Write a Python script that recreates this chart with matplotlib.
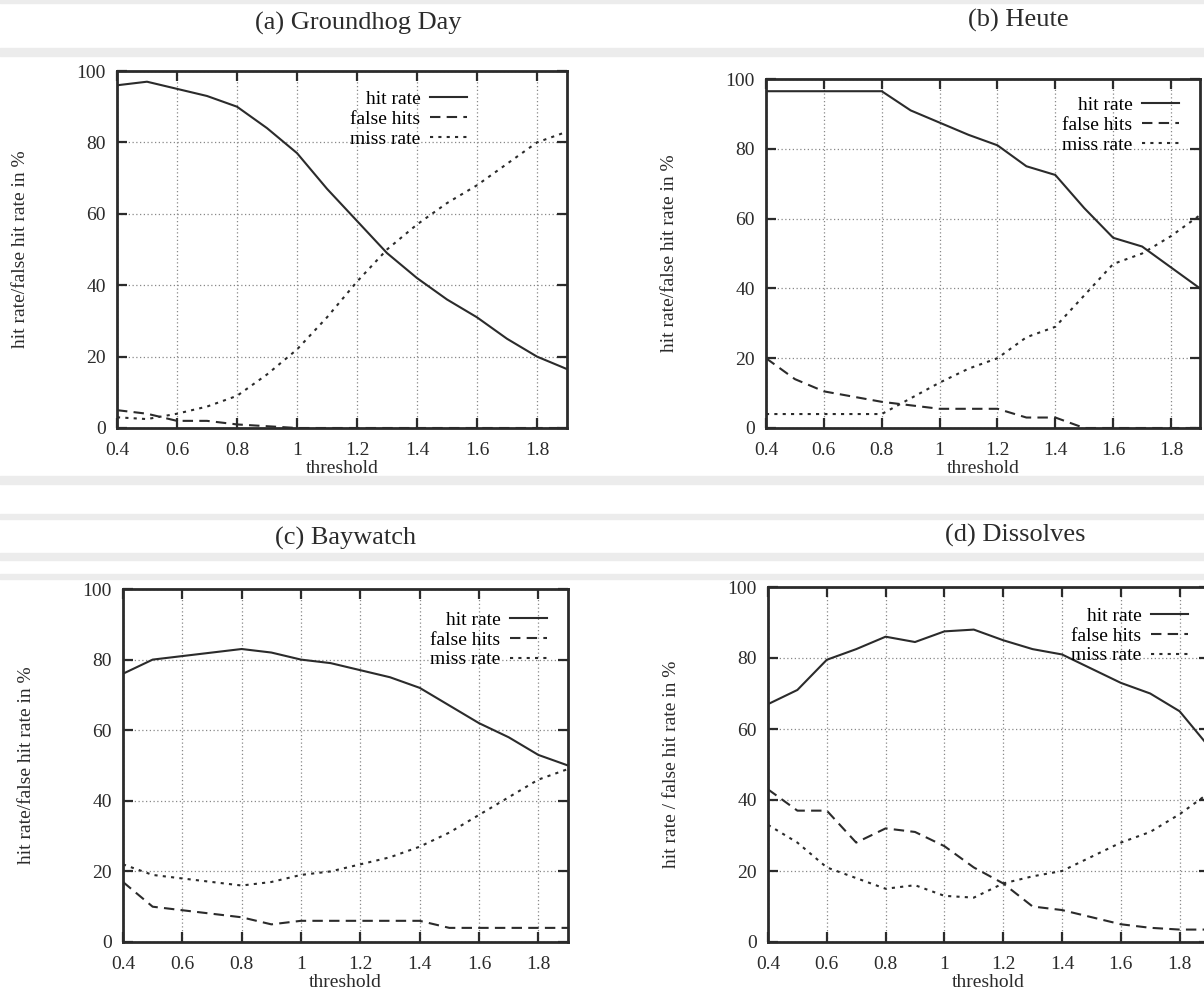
import matplotlib.pyplot as plt
import numpy as np

plt.rcParams['font.family'] = ['Liberation Serif', 'DejaVu Serif']

threshold = [0.4, 0.5, 0.6, 0.7, 0.8, 0.9, 1.0, 1.1, 1.2, 1.3, 1.4, 1.5, 1.6, 1.7, 1.8, 1.9]

# (a) Groundhog Day
gd_hit = [96, 97, 95, 93, 90, 84, 77, 67, 58, 49, 42, 36, 31, 25, 20, 16.5]
gd_false = [5, 4, 2, 2, 1, 0.5, 0, 0, 0, 0, 0, 0, 0, 0, 0, 0]
gd_miss = [3, 2.5, 4, 6, 9, 15, 22, 31, 41, 50, 57, 63, 68, 74, 80, 83]

# (b) Heute
he_hit = [96.5, 96.5, 96.5, 96.5, 96.5, 91, 87.5, 84, 81, 75, 72.5, 63, 54.5, 52, 46, 40]
he_false = [20, 14, 10.5, 9, 7.5, 6.5, 5.5, 5.5, 5.5, 3, 3, 0, 0, 0, 0, 0]
he_miss = [4, 4, 4, 4, 4, 8.5, 13, 17, 20, 26, 29, 38, 47, 50, 55, 61]

# (c) Baywatch
bw_hit = [76, 80, 81, 82, 83, 82, 80, 79, 77, 75, 72, 67, 62, 58, 53, 50]
bw_false = [17, 10, 9, 8, 7, 5, 6, 6, 6, 6, 6, 4, 4, 4, 4, 4]
bw_miss = [22, 19, 18, 17, 16, 17, 19, 20, 22, 24, 27, 31, 36, 41, 46, 49]

# (d) Dissolves
di_hit = [67, 71, 79.5, 82.5, 86, 84.5, 87.5, 88, 85, 82.5, 81, 77, 73, 70, 65, 55]
di_false = [43, 37, 37, 28, 32, 31, 27, 21, 16.5, 10, 9, 7, 5, 4, 3.5, 3.5]
di_miss = [33, 28, 21, 18, 15, 16, 13, 12.5, 16.5, 18.5, 20, 24, 28, 31, 36, 42]

# title, series, y label, axes box (px: left, top, right, bottom), title pos, legend corner (px)
panels = [
    ('(a) Groundhog Day', gd_hit, gd_false, gd_miss, 'hit rate/false hit rate in %',
     [117, 71, 567, 428], (358, 23), (467, 90)),
    ('(b) Heute', he_hit, he_false, he_miss, 'hit rate/false hit rate in %',
     [766, 79, 1200, 428], (1018, 20), (1179, 96)),
    ('(c) Baywatch', bw_hit, bw_false, bw_miss, 'hit rate/false hit rate in %',
     [123, 589, 568, 942], (346, 538), (547, 611)),
    ('(d) Dissolves', di_hit, di_false, di_miss, 'hit rate / false hit rate in %',
     [768, 587, 1209, 942], (1015, 535), (1188, 607)),
]

W, H = 1204, 990
fig = plt.figure(figsize=(W / 100, H / 100), dpi=100)

# faint scan bands
for y0, y1 in [(0, 3), (48, 56), (476, 484), (514, 519), (553, 560), (574, 579)]:
    fig.patches.append(plt.Rectangle((0, 1 - y1 / H), 1, (y1 - y0) / H,
                                     transform=fig.transFigure, color='#ececec', zorder=0))

ink = '#2b2b2b'
for title, hit, false, miss, ylab, box, tpos, lpos in panels:
    x0, y0, x1, y1 = box
    ax = fig.add_axes([x0 / W, 1 - y1 / H, (x1 - x0) / W, (y1 - y0) / H])
    ax.plot(threshold, hit, color=ink, lw=1.5, label='hit rate')
    ax.plot(threshold, false, color=ink, lw=1.5, dashes=(5, 3), label='false hits')
    ax.plot(threshold, miss, color=ink, lw=1.5, dashes=(1.5, 2.5), label='miss rate')
    ax.set_xlim(0.4, 1.9)
    ax.set_ylim(0, 100)
    ax.set_xticks([0.4, 0.6, 0.8, 1.0, 1.2, 1.4, 1.6, 1.8])
    ax.set_xticklabels(['0.4', '0.6', '0.8', '1', '1.2', '1.4', '1.6', '1.8'])
    ax.set_yticks([0, 20, 40, 60, 80, 100])
    ax.tick_params(direction='in', top=True, right=True, length=7, width=1.6,
                   labelsize=14, colors=ink, pad=10)
    ax.tick_params(axis='y', pad=8)
    ax.grid(True, color='#888888', linestyle=(0, (1, 2)), lw=0.9)
    for s in ax.spines.values():
        s.set_linewidth(2)
        s.set_color(ink)
    ax.set_xlabel('threshold', fontsize=14, color=ink, labelpad=1)
    ax.set_ylabel(ylab, fontsize=14, color=ink, labelpad=34)
    ax.legend(loc='upper right', frameon=False, markerfirst=False, fontsize=14,
              handlelength=1.9, handletextpad=0.5, labelspacing=0.12,
              borderpad=0, borderaxespad=0,
              bbox_to_anchor=((lpos[0] - x0) / (x1 - x0), (y1 - lpos[1]) / (y1 - y0)))
    fig.text(tpos[0] / W, 1 - tpos[1] / H, title, ha='center', va='center',
             fontsize=19, color=ink)

fig.savefig('out.png', dpi=100)
